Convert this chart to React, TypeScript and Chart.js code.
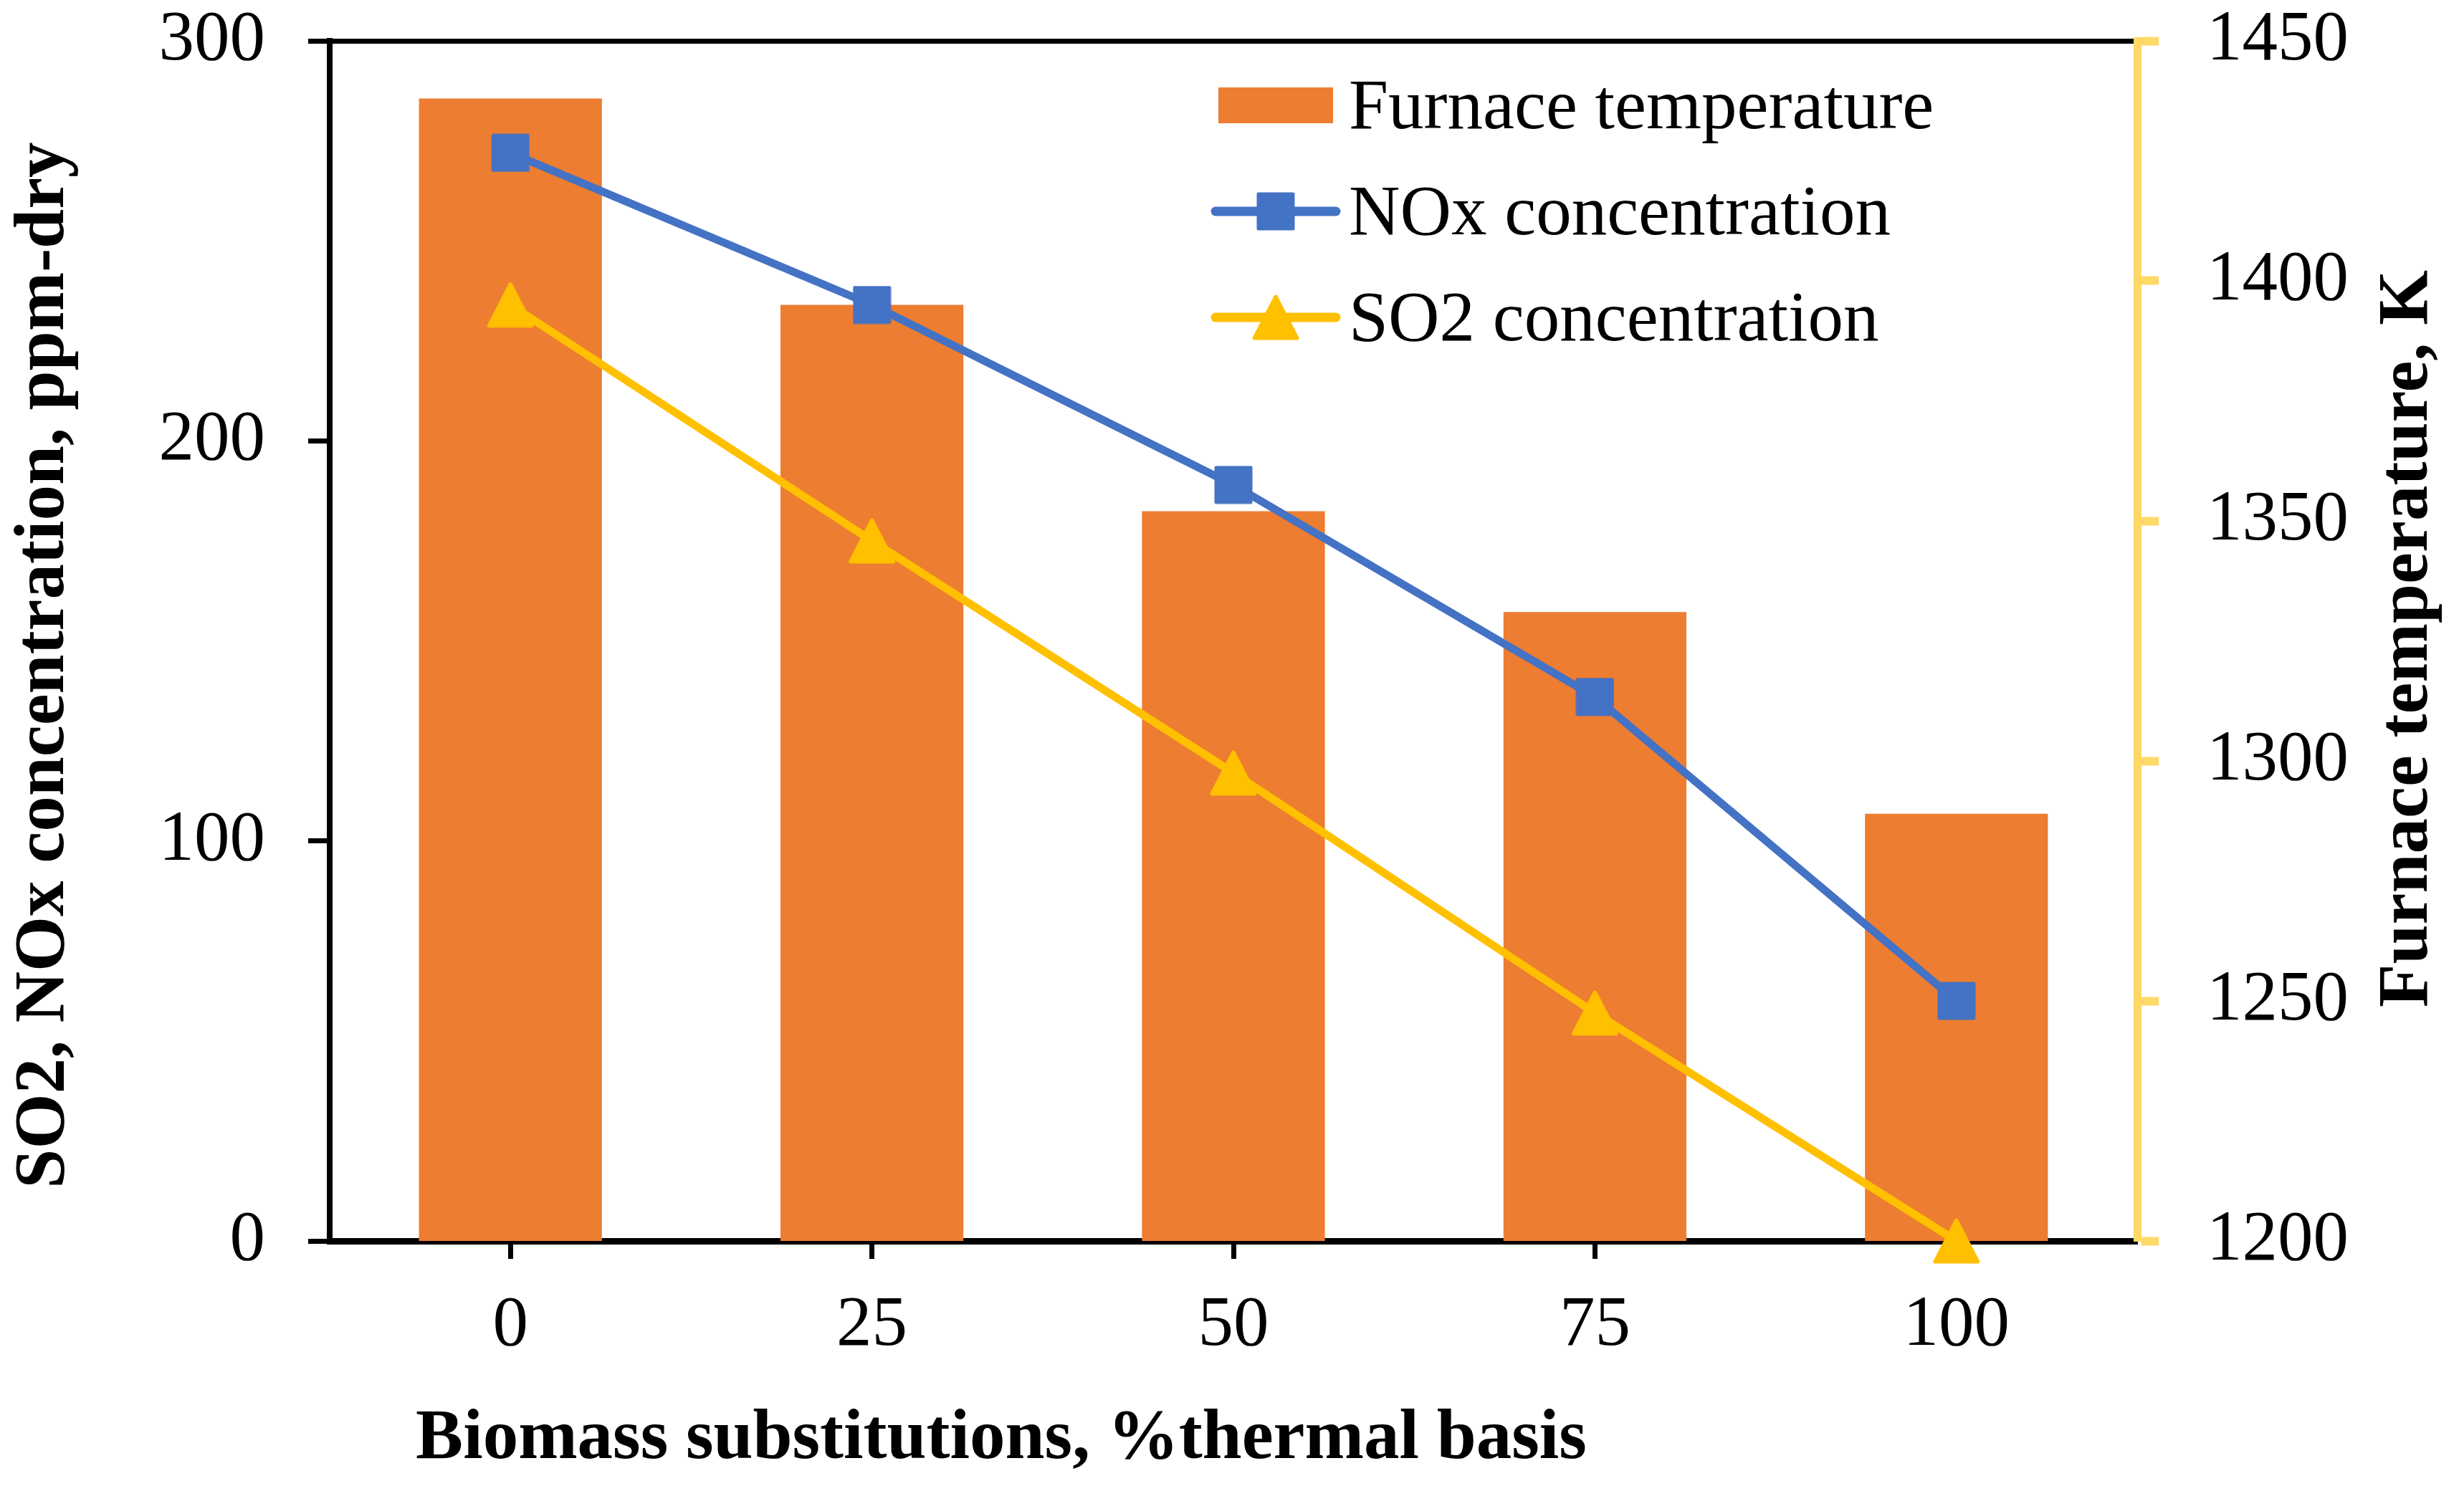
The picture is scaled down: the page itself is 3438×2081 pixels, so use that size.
import { useEffect, useRef } from "react";
import { Chart, registerables } from "chart.js";

Chart.register(...registerables);

// data
const categories = ["0", "25", "50", "75", "100"];
const furnaceTemp = [1438, 1395, 1352, 1331, 1289];
const noxConc = [272, 234, 189, 136, 60];
const so2Conc = [234, 175, 117, 57, 0];

const leftRange = [0, 300];
const leftStep = 100;
const rightRange = [1200, 1450];
const rightStep = 50;

const xTitle = "Biomass substitutions, %thermal basis";
const yTitle = "SO2, NOx concentration, ppm-dry";
const y1Title = "Furnace temperature, K";

const ORANGE = "#ED7D31";
const BLUE = "#4472C4";
const GOLD = "#FFC000";
const PALE_GOLD = "#FFD966";
const FONT = "'Liberation Serif', 'Times New Roman', serif";

// excel-like marker images (centred on the point)
function makeMarker(kind: "rect" | "triangle", color: string) {
  const c = document.createElement("canvas");
  const w = kind === "rect" ? 54 : 66;
  const h = kind === "rect" ? 54 : 64;
  c.width = w;
  c.height = h;
  const g = c.getContext("2d")!;
  g.fillStyle = color;
  g.strokeStyle = color;
  g.lineJoin = "round";
  g.lineWidth = 5;
  g.beginPath();
  if (kind === "rect") {
    g.rect(3, 3, w - 6, h - 6);
  } else {
    g.moveTo(w / 2, 3);
    g.lineTo(w - 3, h - 3);
    g.lineTo(3, h - 3);
    g.closePath();
  }
  g.fill();
  g.stroke();
  return c;
}

const axisTitles = {
  id: "axisTitles",
  afterDraw(chart: any) {
    const { ctx, chartArea: a } = chart;
    const mid = (a.top + a.bottom) / 2;
    ctx.save();
    ctx.fillStyle = "#000";
    ctx.font = `bold 99px ${FONT}`;
    ctx.textAlign = "center";
    ctx.textBaseline = "alphabetic";
    ctx.fillText(xTitle, a.left + 937, a.bottom + 303);

    ctx.save();
    ctx.translate(a.left - 372, mid + 34);
    ctx.rotate(-Math.PI / 2);
    ctx.fillText(yTitle, 0, 0);
    ctx.restore();

    ctx.save();
    ctx.translate(a.right + 404, mid - 3);
    ctx.rotate(-Math.PI / 2);
    ctx.fillText(y1Title, 0, 0);
    ctx.restore();
    ctx.restore();
  },
};

const insideLegend = {
  id: "insideLegend",
  afterDraw(chart: any) {
    const { ctx, chartArea: a } = chart;
    const cx = a.left + 1320;
    ctx.save();
    ctx.font = `99px ${FONT}`;
    ctx.textAlign = "left";
    ctx.textBaseline = "alphabetic";
    chart.data.datasets.forEach((ds: any, i: number) => {
      const cy = a.top + 90 + i * 148;
      if (ds.type === "bar") {
        ctx.fillStyle = ds.backgroundColor;
        ctx.fillRect(cx - 80, cy - 25, 160, 50);
      } else {
        ctx.strokeStyle = ds.borderColor;
        ctx.lineWidth = 13;
        ctx.lineCap = "round";
        ctx.beginPath();
        ctx.moveTo(cx - 84, cy);
        ctx.lineTo(cx + 84, cy);
        ctx.stroke();
        const img = ds.pointStyle as HTMLCanvasElement;
        ctx.drawImage(img, cx - img.width / 2, cy - img.height / 2);
      }
      ctx.fillStyle = "#000";
      ctx.fillText(ds.label, cx + 102, cy + 32);
    });
    ctx.restore();
  },
};

// keep the plot area exactly where the figure has it
const noPad = (s: any) => {
  s.paddingTop = 0;
  s.paddingBottom = 0;
  s.paddingLeft = 0;
  s.paddingRight = 0;
};

export default function App() {
  const canvasRef = useRef<HTMLCanvasElement | null>(null);

  useEffect(() => {
    if (!canvasRef.current) return;
    const ctx = canvasRef.current.getContext("2d");
    if (!ctx) return;

    const tickFont = { family: FONT, size: 99 };
    const plain = (v: any) => String(v);

    const chart = new Chart(ctx, {
      data: {
        labels: categories,
        datasets: [
          {
            type: "bar",
            label: "Furnace temperature",
            data: furnaceTemp,
            yAxisID: "y1",
            backgroundColor: ORANGE,
            categoryPercentage: 1,
            barPercentage: 0.506,
            order: 3,
          },
          {
            type: "line",
            label: "NOx concentration",
            data: noxConc,
            yAxisID: "y",
            borderColor: BLUE,
            borderWidth: 11,
            pointStyle: makeMarker("rect", BLUE),
            clip: false,
            order: 2,
          },
          {
            type: "line",
            label: "SO2 concentration",
            data: so2Conc,
            yAxisID: "y",
            borderColor: GOLD,
            borderWidth: 11,
            pointStyle: makeMarker("triangle", GOLD),
            clip: false,
            order: 1,
          },
        ] as any,
      },
      options: {
        animation: false,
        responsive: true,
        maintainAspectRatio: false,
        devicePixelRatio: 1,
        layout: { padding: 0 },
        plugins: {
          legend: { display: false },
          tooltip: { enabled: false },
        },
        scales: {
          x: {
            type: "category",
            position: "bottom",
            offset: true,
            grid: {
              offset: false,
              drawOnChartArea: false,
              color: "#000",
              tickLength: 25,
              tickWidth: 7,
            },
            border: { display: true, color: "#000", width: 9 },
            ticks: {
              font: tickFont,
              color: "#000",
              padding: 35,
              maxRotation: 0,
              autoSkip: false,
            },
            afterFit: (s: any) => {
              noPad(s);
              s.height = 349;
            },
          },
          xTop: {
            type: "category",
            position: "top",
            offset: true,
            grid: { display: false },
            ticks: { display: false },
            border: { display: true, color: "#000", width: 7 },
            afterFit: (s: any) => {
              noPad(s);
              s.height = 57;
            },
          },
          y: {
            type: "linear",
            position: "left",
            min: leftRange[0],
            max: leftRange[1],
            grid: {
              drawOnChartArea: false,
              color: "#000",
              tickLength: 30,
              tickWidth: 7,
            },
            border: { display: true, color: "#000", width: 8 },
            ticks: {
              stepSize: leftStep,
              font: tickFont,
              color: "#000",
              padding: 60,
              callback: plain,
            },
            afterFit: (s: any) => {
              noPad(s);
              s.width = 460;
            },
          },
          y1: {
            type: "linear",
            position: "right",
            min: rightRange[0],
            max: rightRange[1],
            grid: {
              drawOnChartArea: false,
              color: PALE_GOLD,
              tickLength: 30,
              tickWidth: 12,
            },
            border: { display: true, color: PALE_GOLD, width: 11 },
            ticks: {
              stepSize: rightStep,
              font: tickFont,
              color: "#000",
              padding: 67,
              callback: plain,
            },
            afterFit: (s: any) => {
              noPad(s);
              s.width = 456;
            },
          },
        },
      } as any,
      plugins: [axisTitles, insideLegend],
    });

    return () => {
      chart.destroy();
    };
  }, []);

  return (
    <div
      style={{
        position: "absolute",
        left: 0,
        top: 0,
        width: 3438,
        height: 2081,
        background: "#fff",
      }}
    >
      <canvas ref={canvasRef}></canvas>
    </div>
  );
}
